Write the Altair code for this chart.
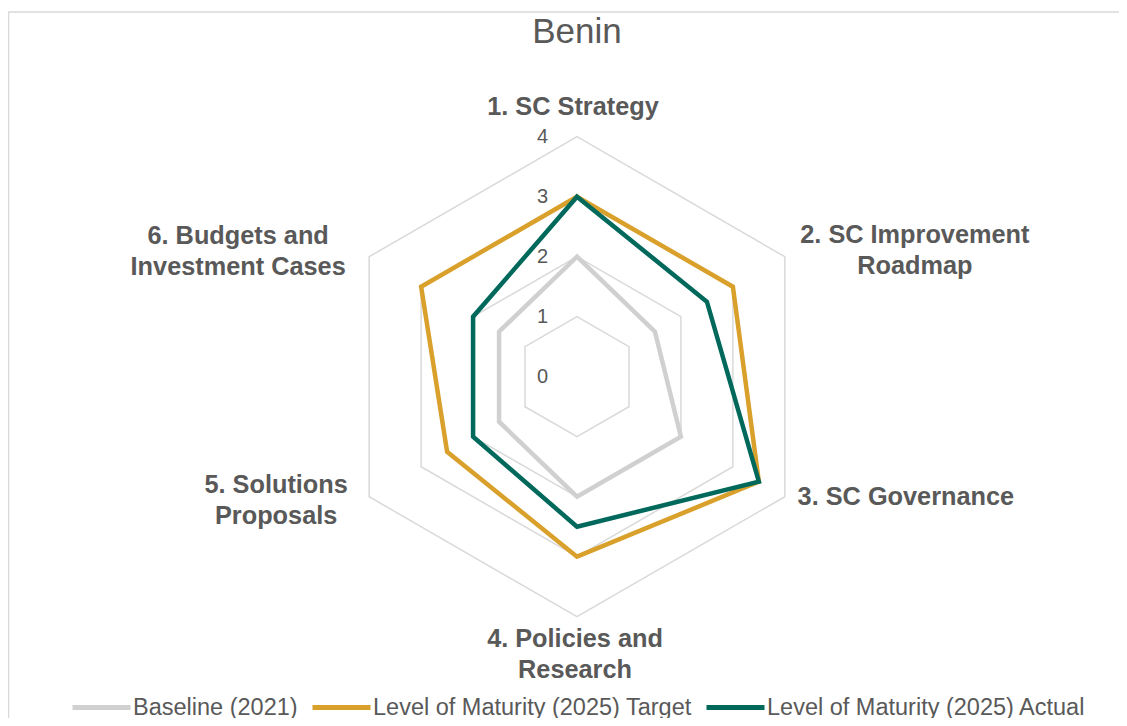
import altair as alt
import pandas as pd

# ---------------- data ----------------
title_text = "Benin"
categories = [
    "1. SC Strategy",
    "2. SC Improvement\nRoadmap",
    "3. SC Governance",
    "4. Policies and\nResearch",
    "5. Solutions\nProposals",
    "6. Budgets and\nInvestment Cases",
]
series_names = [
    "Baseline (2021)",
    "Level of Maturity (2025) Target",
    "Level of Maturity (2025) Actual",
]
baseline = [2, 1.5, 2, 2, 1.5, 1.5]
target = [3, 3, 3.5, 3, 2.5, 3]
actual = [3, 2.5, 3.5, 2.5, 2, 2]
tick_values = [0, 1, 2, 3, 4]
r_max = 4

# ---------------- styling ----------------
W, H = 1111, 710
CX, CY = 569.0, 368.7     # centre of radar in view pixels
UNIT = 60.0               # pixels per unit of value
colors = ["#d0d0d0", "#d9a02b", "#00695c"]
text_color = "#595959"
grid_color = "#d9d9d9"
FONT = "Liberation Sans"
# label offsets (pixels) from the outer vertex of each axis (first line centre)
label_offsets = [(-4, -30), (130, -22), (121, 0), (-2, 22), (-93, -12), (-131, -21)]

xscale = alt.Scale(domain=[-CX / UNIT, (W - CX) / UNIT], range=[0, W], nice=False, zero=False)
yscale = alt.Scale(domain=[-(H - CY) / UNIT, CY / UNIT], range=[H, 0], nice=False, zero=False)

n = len(categories)
rows = []
for s, vals in zip(series_names, [baseline, target, actual]):
    for i, v in enumerate(vals):
        rows.append({"series": s, "idx": i, "value": v})
series_df = pd.DataFrame(rows)

grid_df = pd.DataFrame([{"level": lv, "idx": i} for lv in tick_values if lv > 0 for i in range(n)])
cat_df = pd.DataFrame({"category": categories, "idx": list(range(n)), "r": [r_max] * n})
tick_df = pd.DataFrame({"tick": tick_values})

polar = dict(
    px=f"datum.r * sin(datum.idx * 2 * PI / {n})",
    py=f"datum.r * cos(datum.idx * 2 * PI / {n})",
)

X = alt.X("px:Q", scale=xscale, axis=None)
Y = alt.Y("py:Q", scale=yscale, axis=None)

border = alt.Chart(pd.DataFrame({"a": [0]})).mark_rect(
    filled=False, stroke=grid_color, strokeWidth=1.5
).encode(x=alt.value(0.5), x2=alt.value(W + 50), y=alt.value(4), y2=alt.value(H + 50))

grid = alt.Chart(grid_df).transform_calculate(r="datum.level", **polar).mark_line(
    interpolate="linear-closed", color=grid_color, strokeWidth=1.5
).encode(x=X, y=Y, detail="level:N", order="idx:Q")

lines = alt.Chart(series_df).transform_calculate(r="datum.value", **polar).mark_line(
    interpolate="linear-closed", strokeWidth=4.5, strokeJoin="miter"
).encode(
    x=X,
    y=Y,
    order="idx:Q",
    color=alt.Color(
        "series:N",
        scale=alt.Scale(domain=series_names, range=colors),
        sort=series_names,
        legend=alt.Legend(
            title=None,
            orient="none",
            direction="horizontal",
            legendX=62,
            legendY=668,
            symbolType="stroke",
            symbolSize=3364,
            symbolStrokeWidth=5,
            labelFont=FONT,
            labelFontSize=23.5,
            labelColor=text_color,
            labelOffset=0,
            columnPadding=4,
            padding=0,
            labelLimit=500,
        ),
    ),
)

ticks = alt.Chart(tick_df).transform_calculate(r="datum.tick", idx="0", **polar).mark_text(
    align="right", baseline="middle", dx=-29, font=FONT, fontSize=20, color=text_color
).encode(x=X, y=Y, text="tick:Q")

label_layers = []
for i, cat in enumerate(categories):
    dx, dy = label_offsets[i]
    label_layers.append(
        alt.Chart(cat_df)
        .transform_filter(f"datum.idx == {i}")
        .transform_calculate(**polar)
        .mark_text(
            align="center", baseline="middle", dx=dx, dy=dy, lineBreak="\n", lineHeight=31,
            font=FONT, fontSize=25.3, fontWeight="bold", color=text_color,
        )
        .encode(x=X, y=Y, text="category:N")
    )

title = alt.Chart(pd.DataFrame({"t": [title_text]})).mark_text(
    align="center", baseline="middle", font=FONT, fontSize=35, color=text_color
).encode(x=alt.datum(0, scale=xscale), y=alt.value(23.5), text="t:N")

chart = alt.layer(border, grid, lines, ticks, *label_layers, title).properties(
    width=W, height=H, autosize=alt.AutoSizeParams(type="none"), padding=0
).configure_view(stroke=None)

chart.save("out.html", embed_options={"renderer": "svg", "actions": False})
